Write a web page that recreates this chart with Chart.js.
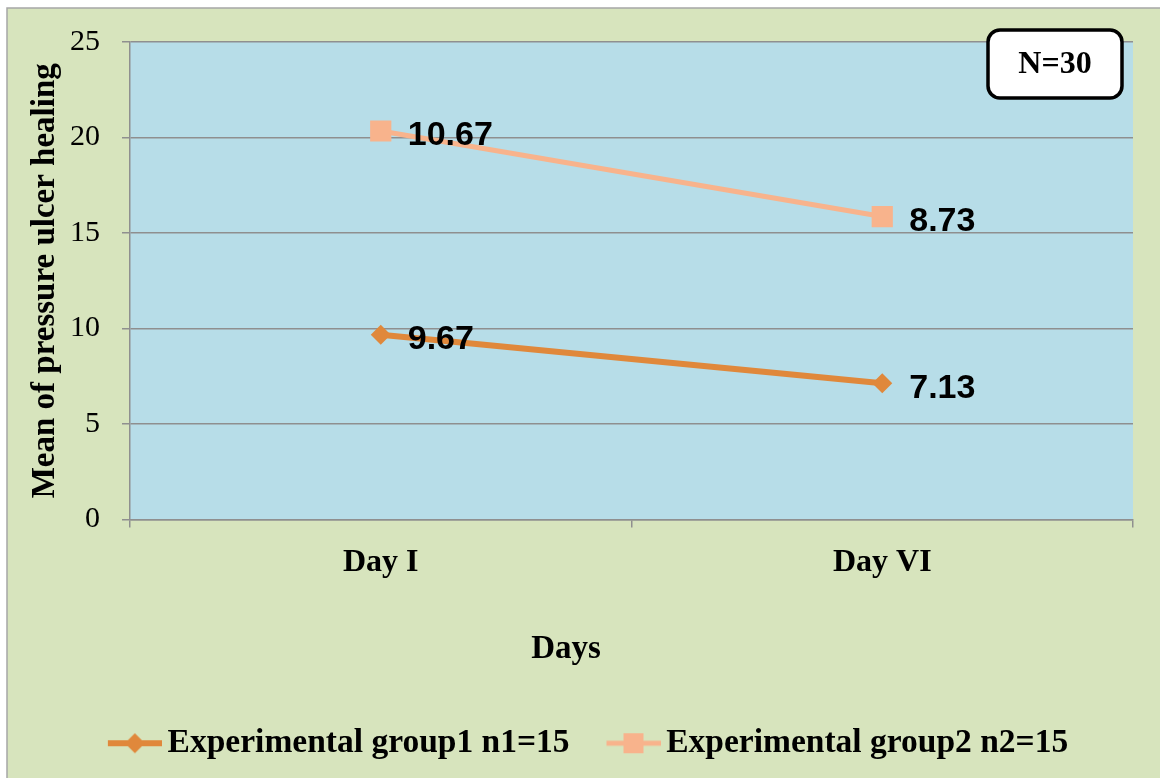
<!DOCTYPE html>
<html>
<head>
<meta charset="utf-8">
<script src="https://cdn.jsdelivr.net/npm/chart.js@4.4.1/dist/chart.umd.min.js"></script>
<style>
  html, body { margin: 0; padding: 0; background: #ffffff; }
  #wrap { position: absolute; left: 0; top: 0; width: 1160px; height: 778px; }
</style>
</head>
<body>
<div id="wrap"><canvas id="c" width="1160" height="778"></canvas></div>
<script>
// ---- data ----
const categories = ["Day I", "Day VI"];
const group1Values = [9.67, 7.13];
const group2Values = [10.67, 8.73];
const seriesNames = ["Experimental group1 n1=15", "Experimental group2 n2=15"];
const yTicks = [0, 5, 10, 15, 20, 25];
const xTitle = "Days";
const yTitle = "Mean of pressure ulcer healing";
const noteText = "N=30";

// ---- styles ----
const C1 = "#E0883B";
const C2 = "#F8B38C";
const PLOT_BG = "#B7DDE8";
const OUTER_BG = "#D7E4BD";
const GRID = "#8F8F8F";
const SERIF = "'Liberation Serif', 'Times New Roman', serif";
const SANS = "'Liberation Sans', Arial, sans-serif";
const LEG_FS = 33.5;
const LEG_W = 70;
const PAD_L = 16;

function legendImg(style, color, lw) {
  const I = Math.round(LEG_W + LEG_FS - 12);
  const c = document.createElement('canvas');
  c.width = I; c.height = 30;
  const g = c.getContext('2d');
  const x0 = I - 54, x1 = I, cx = I - 27, cy = 15;
  g.strokeStyle = color; g.lineWidth = lw;
  g.beginPath(); g.moveTo(x0, cy); g.lineTo(x1, cy); g.stroke();
  g.fillStyle = color;
  if (style === 'diamond') {
    g.beginPath(); g.moveTo(cx, cy - 10); g.lineTo(cx + 10, cy); g.lineTo(cx, cy + 10); g.lineTo(cx - 10, cy); g.closePath(); g.fill();
  } else {
    g.fillRect(cx - 10, cy - 10, 20, 20);
  }
  return c;
}
const legendImgs = [legendImg('diamond', C1, 6), legendImg('square', C2, 5)];

const framePlugin = {
  id: 'frame',
  beforeDraw(chart) {
    const ctx = chart.ctx;
    const a = chart.chartArea;
    ctx.save();
    ctx.fillStyle = '#ffffff';
    ctx.fillRect(0, 0, chart.width, chart.height);
    ctx.fillStyle = OUTER_BG;
    ctx.fillRect(7, 8, chart.width - 7, chart.height - 8);
    ctx.strokeStyle = '#A6A6A6';
    ctx.lineWidth = 1.5;
    ctx.beginPath();
    ctx.moveTo(7, chart.height); ctx.lineTo(7, 8); ctx.lineTo(chart.width, 8);
    ctx.stroke();
    ctx.fillStyle = PLOT_BG;
    ctx.fillRect(a.left, a.top, a.right - a.left, a.bottom - a.top);
    ctx.restore();
  },
  afterDatasetsDraw(chart) {
    const ctx = chart.ctx;
    ctx.save();
    ctx.font = "bold 34px " + SANS;
    ctx.fillStyle = '#000000';
    ctx.textAlign = 'left';
    ctx.textBaseline = 'middle';
    chart.data.datasets.forEach((ds, di) => {
      const meta = chart.getDatasetMeta(di);
      meta.data.forEach((pt, i) => {
        ctx.fillText(ds.data[i].toFixed(2), pt.x + 27, pt.y + 5);
      });
    });
    // x axis title (off-centre as in the original)
    ctx.font = "bold 33px " + SERIF;
    ctx.textAlign = 'center';
    ctx.fillText(xTitle, 566, 649);
    // N=30 box
    const bx = 988, by = 30, bw = 134, bh = 68, r = 12;
    ctx.beginPath();
    ctx.moveTo(bx + r, by);
    ctx.arcTo(bx + bw, by, bx + bw, by + bh, r);
    ctx.arcTo(bx + bw, by + bh, bx, by + bh, r);
    ctx.arcTo(bx, by + bh, bx, by, r);
    ctx.arcTo(bx, by, bx + bw, by, r);
    ctx.closePath();
    ctx.fillStyle = '#ffffff';
    ctx.fill();
    ctx.lineWidth = 3.5;
    ctx.strokeStyle = '#000000';
    ctx.stroke();
    ctx.fillStyle = '#000000';
    ctx.font = "bold 32px " + SERIF;
    ctx.textAlign = 'center';
    ctx.fillText(noteText, bx + bw / 2, by + bh / 2 + 1);
    ctx.restore();
  }
};

new Chart(document.getElementById('c'), {
  type: 'line',
  data: {
    labels: categories,
    datasets: [
      {
        label: seriesNames[0], data: group1Values,
        borderColor: C1, backgroundColor: C1, borderWidth: 6,
        pointStyle: 'rectRot', pointRadius: 10, pointHoverRadius: 10,
        pointBackgroundColor: C1, pointBorderColor: C1, pointBorderWidth: 0,
        tension: 0, fill: false
      },
      {
        label: seriesNames[1], data: group2Values,
        borderColor: C2, backgroundColor: C2, borderWidth: 5,
        pointStyle: 'rect', pointRadius: 15, pointHoverRadius: 15,
        pointBackgroundColor: C2, pointBorderColor: C2, pointBorderWidth: 0,
        tension: 0, fill: false
      }
    ]
  },
  options: {
    responsive: false,
    animation: false,
    devicePixelRatio: 1,
    layout: { padding: { left: PAD_L, right: 27, top: 42, bottom: 8 } },
    plugins: {
      tooltip: { enabled: false },
      legend: {
        position: 'bottom',
        labels: {
          usePointStyle: true,
          pointStyleWidth: LEG_W,
          padding: 10,
          color: '#000000',
          font: { family: SERIF, size: LEG_FS, weight: 'bold' },
          generateLabels: (chart) => chart.data.datasets.map((ds, i) => ({
            text: ds.label,
            pointStyle: legendImgs[i],
            fillStyle: ds.borderColor,
            strokeStyle: ds.borderColor,
            lineWidth: 0,
            hidden: false,
            datasetIndex: i,
            fontColor: '#000000'
          }))
        }
      }
    },
    scales: {
      x: {
        offset: true,
        grid: { display: true, drawOnChartArea: false, drawTicks: true, tickLength: 8, color: GRID, lineWidth: 1.5, offset: true },
        border: { display: true, color: GRID, width: 1.5 },
        ticks: { color: '#000000', padding: 16, font: { family: SERIF, size: 32, weight: 'bold' }, maxRotation: 0 },
        title: { display: false, text: xTitle },
        afterFit(scale) { scale.height = 197; }
      },
      y: {
        stacked: true,
        min: 0, max: 25,
        afterBuildTicks(scale) { scale.ticks = yTicks.map(v => ({ value: v })); },
        grid: { color: GRID, lineWidth: 1.5, drawTicks: true, tickLength: 8 },
        border: { display: true, color: GRID, width: 1.5 },
        ticks: { color: '#000000', padding: 22, font: { family: SERIF, size: 30 } },
        title: { display: true, text: yTitle, color: '#000000', font: { family: SERIF, size: 33, weight: 'bold' }, padding: { top: 26 - PAD_L, bottom: 0 } },
        afterFit(scale) { scale.width = 130 - PAD_L; }
      }
    }
  },
  plugins: [framePlugin]
});
</script>
</body>
</html>
